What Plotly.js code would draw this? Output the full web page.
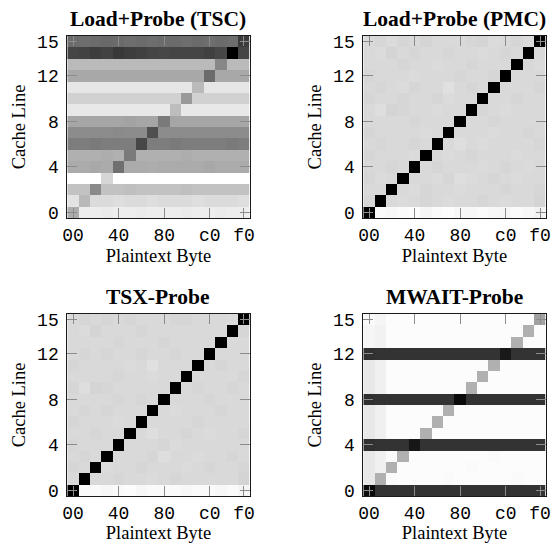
<!DOCTYPE html>
<html>
<head>
<meta charset="utf-8">
<script src="https://cdn.plot.ly/plotly-3.0.1.min.js"></script>
<style>
html,body{margin:0;padding:0;background:#fff;}
#chart{width:553px;height:543px;}
</style>
</head>
<body>
<div id="chart"></div>
<script>
// ---- categories / tick labels ----
const plaintextBytes = [0,16,32,48,64,80,96,112,128,144,160,176,192,208,224,240];
const cacheLines = [0,1,2,3,4,5,6,7,8,9,10,11,12,13,14,15];
const byteTickVals = [0,64,128,192,240];
const byteTickText = ['00','40','80','c0','f0'];
const lineTickVals = [0,4,8,12,15];
const lineTickText = ['0','4','8','12','15'];
const panelTitles = ['Load+Probe (TSC)','Load+Probe (PMC)','TSX-Probe','MWAIT-Probe'];

// ---- series values: rows = cache line 0..15, columns = plaintext byte 00..f0 (0 = white, 1 = black) ----
const tscValues = [
 [0.32,0.07,0.07,0.08,0.07,0.07,0.08,0.07,0.07,0.07,0.08,0.07,0.07,0.08,0.07,0.07],
 [0.11,0.28,0.14,0.14,0.13,0.14,0.14,0.13,0.14,0.14,0.14,0.13,0.14,0.14,0.14,0.13],
 [0.24,0.24,0.46,0.24,0.24,0.25,0.24,0.24,0.24,0.24,0.25,0.24,0.24,0.24,0.24,0.24],
 [0.00,0.00,0.00,0.16,0.00,0.00,0.00,0.00,0.00,0.00,0.00,0.00,0.00,0.00,0.00,0.00],
 [0.33,0.33,0.34,0.33,0.56,0.33,0.33,0.32,0.33,0.33,0.33,0.33,0.34,0.33,0.33,0.33],
 [0.31,0.31,0.31,0.32,0.31,0.52,0.31,0.31,0.31,0.31,0.32,0.31,0.31,0.31,0.31,0.31],
 [0.51,0.51,0.52,0.51,0.51,0.51,0.72,0.51,0.51,0.52,0.51,0.51,0.51,0.51,0.52,0.51],
 [0.45,0.45,0.45,0.45,0.46,0.45,0.45,0.69,0.45,0.45,0.45,0.45,0.45,0.45,0.45,0.45],
 [0.35,0.35,0.35,0.35,0.35,0.36,0.35,0.35,0.52,0.35,0.35,0.35,0.35,0.35,0.35,0.35],
 [0.09,0.09,0.09,0.09,0.09,0.09,0.09,0.09,0.09,0.26,0.09,0.09,0.09,0.09,0.09,0.09],
 [0.18,0.18,0.18,0.18,0.18,0.18,0.18,0.18,0.18,0.18,0.40,0.18,0.18,0.18,0.18,0.18],
 [0.10,0.10,0.10,0.10,0.10,0.10,0.10,0.10,0.10,0.10,0.10,0.27,0.10,0.10,0.10,0.10],
 [0.34,0.34,0.34,0.34,0.34,0.34,0.34,0.34,0.34,0.34,0.34,0.34,0.58,0.34,0.34,0.34],
 [0.27,0.27,0.27,0.27,0.27,0.27,0.27,0.27,0.27,0.27,0.27,0.27,0.27,0.47,0.27,0.27],
 [0.73,0.74,0.76,0.74,0.78,0.76,0.75,0.73,0.72,0.73,0.73,0.73,0.75,0.72,1.00,0.73],
 [0.58,0.57,0.58,0.59,0.58,0.57,0.58,0.57,0.58,0.58,0.57,0.58,0.57,0.58,0.57,0.77]
];
const pmcValues = [
 [1.00,0.02,0.03,0.02,0.01,0.04,0.02,0.01,0.03,0.03,0.02,0.03,0.04,0.02,0.03,0.05],
 [0.16,1.00,0.15,0.14,0.15,0.16,0.15,0.14,0.15,0.15,0.16,0.15,0.14,0.15,0.15,0.17],
 [0.15,0.15,1.00,0.15,0.14,0.16,0.15,0.15,0.14,0.15,0.15,0.15,0.16,0.15,0.15,0.16],
 [0.16,0.14,0.15,1.00,0.15,0.15,0.14,0.16,0.13,0.14,0.15,0.16,0.15,0.14,0.15,0.15],
 [0.15,0.15,0.16,0.15,1.00,0.15,0.16,0.15,0.15,0.15,0.14,0.15,0.16,0.15,0.14,0.15],
 [0.16,0.15,0.15,0.15,0.14,1.00,0.15,0.14,0.15,0.16,0.15,0.15,0.15,0.14,0.15,0.15],
 [0.15,0.16,0.15,0.15,0.16,0.15,1.00,0.15,0.13,0.15,0.14,0.15,0.15,0.15,0.15,0.16],
 [0.16,0.15,0.15,0.15,0.15,0.14,0.15,1.00,0.15,0.15,0.15,0.14,0.15,0.15,0.16,0.15],
 [0.15,0.15,0.15,0.15,0.16,0.15,0.15,0.15,1.00,0.15,0.15,0.16,0.15,0.15,0.15,0.15],
 [0.15,0.13,0.17,0.16,0.15,0.15,0.14,0.15,0.15,1.00,0.16,0.15,0.14,0.15,0.15,0.15],
 [0.16,0.15,0.15,0.16,0.15,0.15,0.16,0.14,0.15,0.15,1.00,0.15,0.15,0.16,0.15,0.15],
 [0.15,0.16,0.15,0.14,0.16,0.15,0.15,0.12,0.15,0.16,0.15,1.00,0.15,0.15,0.15,0.16],
 [0.16,0.15,0.15,0.15,0.14,0.15,0.15,0.15,0.16,0.15,0.15,0.16,1.00,0.15,0.15,0.15],
 [0.15,0.15,0.15,0.16,0.15,0.15,0.14,0.15,0.15,0.16,0.15,0.15,0.15,1.00,0.15,0.14],
 [0.15,0.14,0.17,0.15,0.16,0.15,0.15,0.16,0.15,0.15,0.14,0.15,0.16,0.15,1.00,0.15],
 [0.15,0.16,0.14,0.16,0.15,0.17,0.15,0.15,0.15,0.16,0.17,0.14,0.15,0.16,0.14,1.00]
];
const tsxValues = [
 [1.00,0.02,0.02,0.03,0.02,0.01,0.03,0.02,0.02,0.02,0.03,0.02,0.02,0.03,0.02,0.04],
 [0.15,1.00,0.15,0.15,0.16,0.15,0.15,0.14,0.15,0.16,0.15,0.15,0.15,0.15,0.15,0.17],
 [0.16,0.15,1.00,0.14,0.15,0.15,0.16,0.15,0.15,0.15,0.14,0.15,0.16,0.15,0.15,0.16],
 [0.15,0.16,0.15,1.00,0.15,0.15,0.15,0.16,0.13,0.15,0.15,0.14,0.15,0.15,0.16,0.15],
 [0.16,0.15,0.15,0.15,1.00,0.15,0.15,0.15,0.16,0.14,0.15,0.15,0.15,0.15,0.15,0.15],
 [0.15,0.15,0.16,0.15,0.15,1.00,0.15,0.13,0.15,0.15,0.16,0.15,0.14,0.15,0.15,0.16],
 [0.16,0.15,0.15,0.15,0.14,0.15,1.00,0.15,0.15,0.15,0.15,0.16,0.15,0.15,0.15,0.15],
 [0.15,0.16,0.15,0.16,0.15,0.15,0.15,1.00,0.15,0.14,0.15,0.15,0.15,0.16,0.15,0.15],
 [0.15,0.15,0.15,0.15,0.16,0.15,0.16,0.15,1.00,0.15,0.15,0.15,0.16,0.15,0.15,0.15],
 [0.16,0.13,0.17,0.16,0.15,0.15,0.15,0.15,0.15,1.00,0.15,0.16,0.15,0.15,0.16,0.15],
 [0.15,0.15,0.15,0.15,0.16,0.15,0.15,0.14,0.15,0.15,1.00,0.15,0.15,0.15,0.15,0.16],
 [0.16,0.15,0.15,0.15,0.15,0.14,0.15,0.12,0.15,0.15,0.15,1.00,0.15,0.16,0.15,0.15],
 [0.15,0.16,0.15,0.16,0.15,0.15,0.16,0.15,0.15,0.16,0.15,0.15,1.00,0.15,0.15,0.15],
 [0.15,0.15,0.15,0.15,0.16,0.15,0.15,0.15,0.16,0.15,0.15,0.15,0.15,1.00,0.15,0.15],
 [0.15,0.14,0.17,0.15,0.15,0.15,0.16,0.15,0.15,0.15,0.15,0.15,0.15,0.15,1.00,0.16],
 [0.15,0.16,0.15,0.16,0.15,0.16,0.15,0.15,0.15,0.16,0.16,0.15,0.15,0.15,0.14,1.00]
];
const mwaitValues = [
 [0.96,0.80,0.80,0.80,0.80,0.80,0.80,0.80,0.80,0.80,0.80,0.80,0.80,0.80,0.80,0.80],
 [0.09,0.31,0.02,0.01,0.01,0.01,0.01,0.02,0.01,0.01,0.01,0.01,0.01,0.02,0.01,0.01],
 [0.09,0.06,0.31,0.01,0.01,0.01,0.01,0.01,0.01,0.02,0.01,0.01,0.01,0.01,0.01,0.01],
 [0.09,0.06,0.02,0.31,0.01,0.01,0.01,0.01,0.01,0.01,0.01,0.02,0.01,0.01,0.01,0.01],
 [0.81,0.80,0.80,0.80,0.91,0.80,0.80,0.80,0.80,0.80,0.80,0.80,0.80,0.80,0.80,0.80],
 [0.09,0.06,0.01,0.01,0.01,0.31,0.01,0.01,0.01,0.01,0.01,0.01,0.01,0.01,0.01,0.01],
 [0.09,0.06,0.01,0.01,0.01,0.01,0.31,0.01,0.01,0.01,0.01,0.01,0.01,0.01,0.01,0.01],
 [0.09,0.06,0.01,0.01,0.01,0.01,0.01,0.31,0.01,0.01,0.01,0.01,0.01,0.01,0.01,0.01],
 [0.81,0.80,0.80,0.80,0.80,0.80,0.80,0.80,0.96,0.80,0.80,0.80,0.80,0.80,0.80,0.80],
 [0.09,0.06,0.01,0.01,0.01,0.01,0.01,0.01,0.01,0.31,0.01,0.01,0.01,0.01,0.01,0.01],
 [0.09,0.06,0.01,0.01,0.01,0.01,0.01,0.01,0.01,0.01,0.31,0.01,0.01,0.01,0.01,0.01],
 [0.09,0.06,0.01,0.01,0.01,0.01,0.01,0.01,0.01,0.01,0.01,0.31,0.01,0.01,0.01,0.01],
 [0.81,0.80,0.80,0.80,0.80,0.80,0.80,0.80,0.80,0.80,0.80,0.80,0.90,0.80,0.80,0.80],
 [0.04,0.05,0.01,0.01,0.01,0.01,0.01,0.01,0.01,0.01,0.01,0.01,0.01,0.31,0.01,0.01],
 [0.04,0.05,0.01,0.01,0.01,0.01,0.01,0.01,0.01,0.01,0.01,0.01,0.01,0.01,0.31,0.01],
 [0.02,0.04,0.01,0.01,0.01,0.01,0.01,0.01,0.01,0.01,0.01,0.01,0.01,0.01,0.01,0.37]
];

const panelValues = [tscValues, pmcValues, tsxValues, mwaitValues];

// ---- layout geometry ----
const colDomains = [[0.1217, 0.4515], [0.657, 0.9868]];
const rowDomains = [[0.5985, 0.9337], [0.0866, 0.4217]];

const serif = 'Liberation Serif, Times New Roman, serif';
const mono = 'Liberation Mono, Courier New, monospace';

const traces = [];
const layout = {
  width: 553, height: 543,
  margin: {l: 0, r: 0, t: 0, b: 0},
  paper_bgcolor: '#ffffff', plot_bgcolor: '#ffffff',
  showlegend: false,
  annotations: []
};

panelValues.forEach((vals, i) => {
  const n = i + 1;
  const sfx = n === 1 ? '' : String(n);
  const col = i % 2, row = Math.floor(i / 2);
  traces.push({
    type: 'heatmap',
    x: plaintextBytes, y: cacheLines, z: vals,
    xaxis: 'x' + sfx, yaxis: 'y' + sfx,
    colorscale: [[0, '#ffffff'], [1, '#000000']],
    zmin: 0, zmax: 1, showscale: false, hoverinfo: 'skip'
  });
  const common = {
    showgrid: false, zeroline: false,
    showline: true, linecolor: '#1a1a1a', linewidth: 1, mirror: 'ticks',
    ticks: 'inside', ticklen: 10, tickwidth: 1, tickcolor: '#8c8c8c',
    tickmode: 'array', fixedrange: true
  };
  layout['xaxis' + sfx] = Object.assign({}, common, {
    domain: colDomains[col], anchor: 'y' + sfx,
    range: [-8, 248], tickvals: byteTickVals, ticktext: byteTickText,
    tickfont: {family: mono, size: 18, color: '#000'},
    title: {text: 'Plaintext Byte', font: {family: serif, size: 18.5, color: '#000'}, standoff: 4}
  });
  layout['yaxis' + sfx] = Object.assign({}, common, {
    domain: rowDomains[row], anchor: 'x' + sfx,
    range: [-0.5, 15.5], tickvals: lineTickVals, ticktext: lineTickText,
    tickfont: {family: mono, size: 18, color: '#000'},
    ticklabelstandoff: 4,
    title: {text: 'Cache Line', font: {family: serif, size: 18.5, color: '#000'}, standoff: 6}
  });
  layout.annotations.push({
    text: '<b>' + panelTitles[i] + '</b>',
    xref: 'paper', yref: 'paper',
    x: (colDomains[col][0] + colDomains[col][1]) / 2,
    y: rowDomains[row][1] + 17 / 543,
    xanchor: 'center', yanchor: 'middle', showarrow: false,
    font: {family: serif, size: 21.5, color: '#000'}
  });
});

Plotly.newPlot('chart', traces, layout, {staticPlot: true, displayModeBar: false});
</script>
</body>
</html>
